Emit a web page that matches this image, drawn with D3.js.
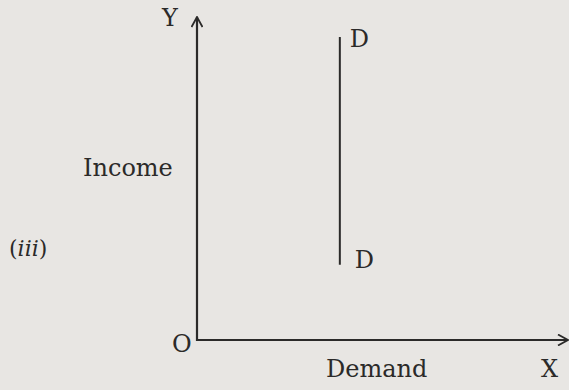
<!DOCTYPE html>
<html>
<head>
<meta charset="utf-8">
<script src="https://cdn.jsdelivr.net/npm/d3@7"></script>
<style>
  body { margin: 0; background: #e8e6e3; }
  svg { display: block; }
  text { font-family: "DejaVu Serif", "Liberation Serif", serif; fill: #2b2a29; }
</style>
</head>
<body>
<svg id="chart" width="569" height="390"></svg>
<script>
// demand curve D-D: vertical, income changes but demand stays the same
const demandLevel = [3.85, 3.85];
const incomeLevel = [9.38, 2.33];
const curveLabels = ["D", "D"];

const svg = d3.select("#chart");
const ink = "#2b2a29";

const x = d3.scaleLinear().domain([0, 10]).range([197, 568]);
const y = d3.scaleLinear().domain([0, 10]).range([340, 17]);

// arrow head
svg.append("defs").append("marker")
  .attr("id", "arrow")
  .attr("viewBox", "0 0 12 12")
  .attr("refX", 11).attr("refY", 6)
  .attr("markerWidth", 12).attr("markerHeight", 12)
  .attr("markerUnits", "userSpaceOnUse")
  .attr("orient", "auto")
  .append("path")
  .attr("d", "M1,0.5 L11,6 L1,11.5")
  .attr("fill", "none")
  .attr("stroke", ink)
  .attr("stroke-width", 1.8);

// axes
svg.append("line")
  .attr("x1", x(0)).attr("y1", y(0) + 1)
  .attr("x2", x(0)).attr("y2", y(10))
  .attr("stroke", ink).attr("stroke-width", 2.2)
  .attr("marker-end", "url(#arrow)");

svg.append("line")
  .attr("x1", x(0) - 1).attr("y1", y(0))
  .attr("x2", x(10)).attr("y2", y(0))
  .attr("stroke", ink).attr("stroke-width", 2.2)
  .attr("marker-end", "url(#arrow)");

// demand curve
const pts = demandLevel.map((d, i) => [d, incomeLevel[i]]);
svg.append("path")
  .datum(pts)
  .attr("d", d3.line().x(d => x(d[0])).y(d => y(d[1])))
  .attr("fill", "none")
  .attr("stroke", ink)
  .attr("stroke-width", 2);

svg.selectAll(".dlabel")
  .data(pts)
  .enter()
  .append("text")
  .attr("class", "dlabel")
  .attr("x", (d, i) => x(d[0]) + (i === 0 ? 10 : 15))
  .attr("y", (d, i) => y(d[1]) + (i === 0 ? 10 : 3))
  .attr("font-size", 24)
  .text((d, i) => curveLabels[i]);

// axis letters
svg.append("text").attr("x", 162).attr("y", 26).attr("font-size", 24).text("Y");
svg.append("text").attr("x", 541).attr("y", 377).attr("font-size", 24).text("X");
svg.append("text").attr("x", 172).attr("y", 352).attr("font-size", 24).text("O");

// axis titles
svg.append("text").attr("x", 83).attr("y", 176).attr("font-size", 24).text("Income");
svg.append("text").attr("x", 326).attr("y", 377).attr("font-size", 24).text("Demand");

// panel number
const panel = svg.append("text").attr("x", 9).attr("y", 256).attr("font-size", 22);
panel.append("tspan").text("(");
panel.append("tspan").attr("font-style", "italic").text("iii");
panel.append("tspan").text(")");
</script>
</body>
</html>
